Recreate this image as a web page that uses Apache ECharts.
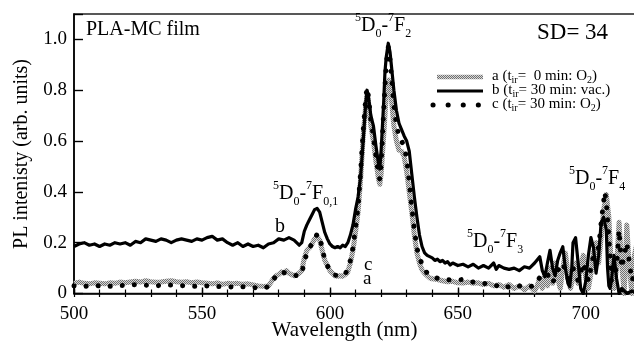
<!DOCTYPE html>
<html>
<head>
<meta charset="utf-8">
<script src="https://cdn.jsdelivr.net/npm/echarts@6/dist/echarts.min.js"></script>
<style>
  html, body { margin: 0; padding: 0; background: #fff; }
  #chart { width: 634px; height: 349px; }
</style>
</head>
<body>
<div id="chart"></div>
<script>
const FONT = '"Liberation Serif", "Times New Roman", serif';

// Curve a: t_ir = 0 min, O2 (hatched grey)
const waveA = [500,502,504,506,508,510,512,514,516,518,520,522,524,526,528,530,532,534,536,538,540,542,544,546,548,550,552,554,556,558,560,562,564,566,568,570,572,574,576,577,578,579,580,581,582,583,584,585,586,587,588,589,590,591,592,593,594,595,596,597,598,599,600,601,602,603,604,605,606,607,608,609,610,611,612,613,614,614.5,615,616,617,618,619,619.5,620,621,622,623,624,625,626,627,628,629,630,631,632,633,634,635,636,637,638,639,640,642,644,646,648,650,652,654,656,658,660,662,664,666,668,670,672,674,676,678,680,681,682,683,684,685,686,687,688,689,690,691,692,693,694,695,696,697,698,699,700,701,702,703,704,705,706,707,708,709,710,711,712,713,714,715,716,717,718,719,720];
const plA   = [0.040,0.045,0.040,0.038,0.042,0.040,0.038,0.042,0.040,0.045,0.042,0.045,0.048,0.045,0.050,0.046,0.044,0.045,0.048,0.050,0.046,0.044,0.046,0.042,0.045,0.042,0.040,0.038,0.042,0.036,0.040,0.038,0.040,0.036,0.038,0.034,0.030,0.028,0.030,0.045,0.060,0.070,0.075,0.085,0.080,0.090,0.080,0.075,0.070,0.075,0.080,0.090,0.140,0.170,0.180,0.195,0.215,0.225,0.210,0.170,0.130,0.110,0.090,0.080,0.070,0.068,0.070,0.068,0.075,0.085,0.120,0.170,0.240,0.320,0.450,0.620,0.740,0.780,0.760,0.660,0.600,0.520,0.450,0.430,0.470,0.620,0.780,0.840,0.770,0.660,0.600,0.565,0.560,0.540,0.480,0.400,0.320,0.230,0.160,0.120,0.093,0.080,0.070,0.061,0.058,0.055,0.050,0.046,0.048,0.042,0.041,0.045,0.040,0.042,0.035,0.040,0.030,0.035,0.025,0.035,0.020,0.030,0.015,0.030,0.010,0.030,0.060,0.020,0.080,0.030,0.100,0.040,0.120,0.060,0.020,0.100,0.160,0.080,0.020,0.060,0.120,0.040,0.100,0.150,0.060,0.020,0.080,0.160,0.200,0.120,0.220,0.330,0.390,0.300,0.100,0.020,0.100,0.280,0.120,0.000,0.270,0.100,0.000,0.150,0.200];

// Curve b: t_ir = 30 min, vacuum (solid black)
const waveB = [500,502,504,506,508,510,512,514,516,518,520,522,524,526,528,530,532,534,536,538,540,542,544,546,548,550,552,554,556,558,560,562,564,566,568,570,572,574,576,578,580,582,584,586,588,589,590,591,592,593,594,595,596,597,598,599,600,601,602,603,604,605,606,607,608,609,610,611,612,613,614,614.5,615,616,617,618,619,619.5,620,621,621.5,622,622.8,623.5,624,625,626,627,628,629,630,631,632,633,634,635,636,637,638,639,640,641,642,643,644,645,646,647,648,650,652,654,656,658,660,662,664,665,666,668,670,672,674,676,678,680,682,683,684,685,686,687,688,689,690,691,692,693,693.7,694.5,695,696,697,698,699,700,701,702,703,704,705,706,707,708,708.5,709,709.5,710,711,712,713,714,716,718,720];
const plB   = [0.185,0.195,0.200,0.190,0.195,0.185,0.195,0.190,0.200,0.195,0.200,0.190,0.205,0.200,0.215,0.210,0.205,0.215,0.210,0.200,0.210,0.215,0.210,0.205,0.215,0.210,0.220,0.225,0.210,0.215,0.200,0.190,0.200,0.185,0.195,0.185,0.190,0.180,0.195,0.200,0.215,0.210,0.220,0.210,0.190,0.200,0.245,0.270,0.290,0.310,0.330,0.335,0.320,0.280,0.240,0.215,0.195,0.185,0.180,0.185,0.180,0.190,0.185,0.200,0.230,0.270,0.330,0.380,0.460,0.600,0.750,0.800,0.780,0.700,0.660,0.580,0.510,0.490,0.560,0.750,0.870,0.930,0.985,0.950,0.900,0.800,0.720,0.670,0.645,0.620,0.600,0.560,0.470,0.380,0.300,0.230,0.185,0.160,0.150,0.145,0.140,0.130,0.135,0.125,0.130,0.120,0.125,0.112,0.120,0.110,0.115,0.105,0.115,0.100,0.110,0.100,0.120,0.095,0.110,0.100,0.095,0.100,0.090,0.105,0.100,0.120,0.145,0.090,0.066,0.120,0.170,0.100,0.070,0.130,0.160,0.184,0.100,0.040,0.027,0.100,0.200,0.220,0.120,0.020,0.000,0.050,0.150,0.220,0.180,0.080,0.150,0.280,0.300,0.250,0.100,0.030,0.020,0.050,0.150,0.060,0.000,0.020,0.000,0.010,0.000];

// Curve c: t_ir = 30 min, O2 (dotted black)
const waveC = [500,504,508,512,516,520,524,528,532,536,540,544,548,552,556,560,564,568,572,575,577,579,581,583,585,587,589,590,592,594,595,596,597,598,600,602,604,606,608,609,610,611,612,613,614,614.5,615,616,617,618,619,619.5,620,621,622,622.8,623.5,624,625,626,627,628,629,630,631,632,633,634,635,636.5,638,640,642,645,648,652,656,660,664,668,672,676,680,683,685,687,689,691,693,695,697,699,701,703,705,706,707.4,708,709,710,712,713,714,716,718,720];
const plC   = [0.030,0.028,0.032,0.027,0.030,0.032,0.035,0.033,0.030,0.034,0.032,0.030,0.028,0.030,0.028,0.025,0.028,0.025,0.022,0.022,0.040,0.070,0.085,0.080,0.075,0.070,0.075,0.130,0.180,0.210,0.235,0.220,0.180,0.130,0.090,0.072,0.070,0.075,0.130,0.180,0.260,0.340,0.480,0.640,0.770,0.810,0.780,0.680,0.620,0.540,0.470,0.450,0.500,0.720,0.900,0.970,0.920,0.860,0.740,0.660,0.620,0.600,0.580,0.530,0.440,0.340,0.250,0.180,0.140,0.105,0.080,0.068,0.060,0.055,0.053,0.055,0.045,0.040,0.035,0.020,0.035,0.025,0.030,0.080,0.075,0.040,0.090,0.120,0.060,0.100,0.050,0.120,0.050,0.150,0.180,0.280,0.400,0.360,0.220,0.050,0.100,0.250,0.100,0.200,0.050,0.100];

function pairs(w, v) { return w.map((x, i) => [x, v[i]]); }

// fine grey checker used to stroke curve a
const hatch = document.createElement('canvas');
hatch.width = 2; hatch.height = 2;
const hc = hatch.getContext('2d');
hc.fillStyle = '#d8d8d8'; hc.fillRect(0, 0, 2, 2);
hc.fillStyle = '#707070'; hc.fillRect(0, 0, 1, 1); hc.fillRect(1, 1, 1, 1);
const hatchPattern = { image: hatch, repeat: 'repeat' };

// text runs with super/subscripts
const mctx = document.createElement('canvas').getContext('2d');
function textWidth(str, size) { mctx.font = size + 'px ' + FONT; return mctx.measureText(str).width; }
function termText(x, baseline, parts, size, small, subDrop) {
  const els = [];
  let cx = x;
  const drop = subDrop == null ? size * 0.3 : subDrop;
  parts.forEach(([t, kind]) => {
    const s = kind === 'n' ? size : small;
    const dy = kind === 'sup' ? -size * 0.5 : kind === 'sub' ? drop : 0;
    els.push({
      type: 'text', silent: true,
      style: { text: t, x: cx, y: baseline + dy - 0.32 * s, font: s + 'px ' + FONT, fill: '#000', textAlign: 'left', textVerticalAlign: 'middle' }
    });
    cx += textWidth(t, s);
  });
  return els;
}
function transition(x, baseline, lower) {
  return termText(x, baseline, [['5', 'sup'], ['D', 'n'], ['0', 'sub'], ['-', 'n'], ['7', 'sup'], ['F', 'n'], [lower, 'sub']], 20, 12);
}

const chart = echarts.init(document.getElementById('chart'), null, { renderer: 'canvas' });

const graphics = [].concat(
  termText(86, 36, [['PLA-MC film', 'n']], 20, 12),
  termText(537, 40, [['SD= 34', 'n']], 23, 14),
  transition(355, 32, '2'),
  transition(273, 200, '0,1'),
  transition(467, 248, '3'),
  transition(569, 185, '4'),
  termText(275, 233, [['b', 'n']], 20, 12),
  termText(364, 271, [['c', 'n']], 19, 12),
  termText(363, 285, [['a', 'n']], 19, 12),
  termText(492, 81, [['a (t', 'n'], ['ir', 'sub'], ['=  0 min: O', 'n'], ['2', 'sub'], [')', 'n']], 15, 10, 3),
  termText(492, 95, [['b (t', 'n'], ['ir', 'sub'], ['= 30 min: vac.)', 'n']], 15, 10, 3),
  termText(492, 109, [['c (t', 'n'], ['ir', 'sub'], ['= 30 min: O', 'n'], ['2', 'sub'], [')', 'n']], 15, 10, 3),
  [
    { type: 'line', silent: true, shape: { x1: 437, y1: 77, x2: 483, y2: 77 }, style: { stroke: hatchPattern, lineWidth: 4.5 } },
    { type: 'line', silent: true, shape: { x1: 437, y1: 91, x2: 483, y2: 91 }, style: { stroke: '#000', lineWidth: 3.2 } },
    { type: 'line', silent: true, shape: { x1: 433, y1: 105, x2: 479, y2: 105 }, style: { stroke: '#000', lineWidth: 5, lineDash: [0.1, 15], lineCap: 'round' } },
    { type: 'text', silent: true, x: 22, y: 154, rotation: Math.PI / 2,
      style: { text: 'PL intenisty (arb. units)', x: 0, y: 0, font: '20px ' + FONT, fill: '#000', textAlign: 'center', textVerticalAlign: 'middle' } },
    { type: 'text', silent: true,
      style: { text: 'Wavelength (nm)', x: 344.5, y: 337 - 0.32 * 21, font: '21px ' + FONT, fill: '#000', textAlign: 'center', textVerticalAlign: 'middle' } }
  ]
);

const xBase = { type: 'value', min: 500, max: 720, position: 'bottom', splitLine: { show: false } };

chart.setOption({
  animation: false,
  backgroundColor: '#fff',
  grid: { left: 74, top: 14, right: -3, bottom: 55.5, show: true, borderColor: '#222', borderWidth: 1.5, outerBoundsMode: 'none', containLabel: false },
  xAxis: [
    Object.assign({}, xBase, {
      interval: 50,
      axisLine: { show: true, lineStyle: { color: '#000', width: 1.6 } },
      axisTick: { show: true, inside: true, length: 6, lineStyle: { color: '#000', width: 1.4 } },
      axisLabel: { show: true, margin: 11, color: '#000', fontSize: 19, fontFamily: FONT,
        formatter: v => (v % 50 === 0 && v < 720 ? String(v) : '') }
    }),
    Object.assign({}, xBase, {
      interval: 10,
      axisLine: { show: false },
      axisTick: { show: true, inside: true, length: 4, lineStyle: { color: '#000', width: 1.2 } },
      axisLabel: { show: false }
    }),
    Object.assign({}, xBase, {
      interval: 10,
      axisLine: { show: false },
      axisTick: { show: true, inside: false, length: 3.5, lineStyle: { color: '#000', width: 1.2 } },
      axisLabel: { show: false }
    })
  ],
  yAxis: {
    type: 'value', min: 0, max: 1.1, interval: 0.2,
    splitLine: { show: false },
    axisLine: { show: true, lineStyle: { color: '#000', width: 1.6 } },
    axisTick: { show: true, inside: true, length: 9, lineStyle: { color: '#000', width: 1.4 } },
    axisLabel: { show: true, margin: 7, color: '#000', fontSize: 19, fontFamily: FONT,
      formatter: v => (v === 0 ? '0' : (Math.abs(v * 5 - Math.round(v * 5)) < 1e-6 ? v.toFixed(1) : '')) }
  },
  series: [
    { name: 'a', type: 'line', xAxisIndex: 0, data: pairs(waveA, plA), symbol: 'none', z: 2,
      lineStyle: { color: hatchPattern, width: 5, join: 'round' } },
    { name: 'b', type: 'line', xAxisIndex: 0, data: pairs(waveB, plB), symbol: 'none', z: 3,
      lineStyle: { color: '#000', width: 3.2, join: 'round' } },
    { name: 'c', type: 'line', xAxisIndex: 0, data: pairs(waveC, plC), symbol: 'none', z: 4,
      lineStyle: { color: '#000', width: 5, type: [0.1, 12], cap: 'round' } }
  ],
  graphic: graphics
});
</script>
</body>
</html>
